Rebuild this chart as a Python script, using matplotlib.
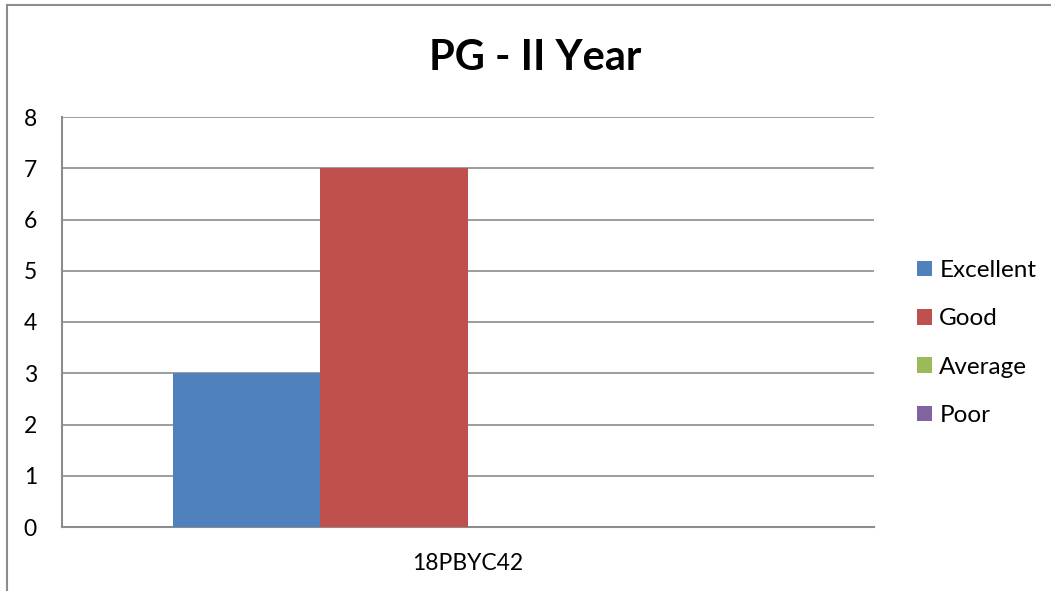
import matplotlib
matplotlib.use("Agg")
import matplotlib.pyplot as plt
from matplotlib.lines import Line2D
from matplotlib.patches import Patch

plt.rcParams['font.family'] = ['Lato', 'DejaVu Sans']

categories = ["18PBYC42"]
series_names = ["Excellent", "Good", "Average", "Poor"]
series_values = [[3], [7], [0], [0]]
colors = ["#4F81BD", "#C0504D", "#9BBB59", "#8064A2"]
y_ticks = [0, 1, 2, 3, 4, 5, 6, 7, 8]
title = "PG - II Year"

W, H = 1051, 591
fig = plt.figure(figsize=(W / 100, H / 100), dpi=100)
ax = fig.add_axes([62 / W, 1 - 527 / H, (874 - 62) / W, (527 - 117) / H])

n = len(series_names)
for i, (name, vals) in enumerate(zip(series_names, series_values)):
    xs = [c + (i - (n - 1) / 2) for c in range(len(categories))]
    ax.bar(xs, vals, width=1.0, color=colors[i], label=name, zorder=3)

ax.set_xlim(-2.75, 2.75)
ax.set_ylim(0, 8)
ax.set_yticks(y_ticks)
ax.set_xticks(range(len(categories)))
ax.set_xticklabels(categories)
ax.grid(axis='y', color='#8c8c8c', linewidth=1.2, zorder=0)
for s in ['top', 'right']:
    ax.spines[s].set_visible(False)
for s in ['left', 'bottom']:
    ax.spines[s].set_color('#8c8c8c')
    ax.spines[s].set_linewidth(1.5)
ax.tick_params(axis='y', length=0, pad=18, labelsize=16.5)
ax.tick_params(axis='x', length=0, pad=19, labelsize=16.5)

fig.text(535 / W, 1 - 58 / H, title, ha='center', va='center', fontsize=30, fontweight='bold')

handles = [Patch(facecolor=c, edgecolor='none') for c in colors]
fig.legend(handles, series_names, loc='center left', bbox_to_anchor=(917 / W, 1 - 343 / H),
           frameon=False, fontsize=17.5, handlelength=0.62, handleheight=0.6,
           handletextpad=0.3, labelspacing=1.12, borderpad=0, borderaxespad=0)

# chart border
fig.add_artist(Line2D([7 / W, 7 / W], [0, 1 - 5 / H], color='#8c8c8c', linewidth=1.5, transform=fig.transFigure))
fig.add_artist(Line2D([7 / W, 1], [1 - 5 / H, 1 - 5 / H], color='#8c8c8c', linewidth=1.5, transform=fig.transFigure))

fig.savefig("out.png", dpi=100)
